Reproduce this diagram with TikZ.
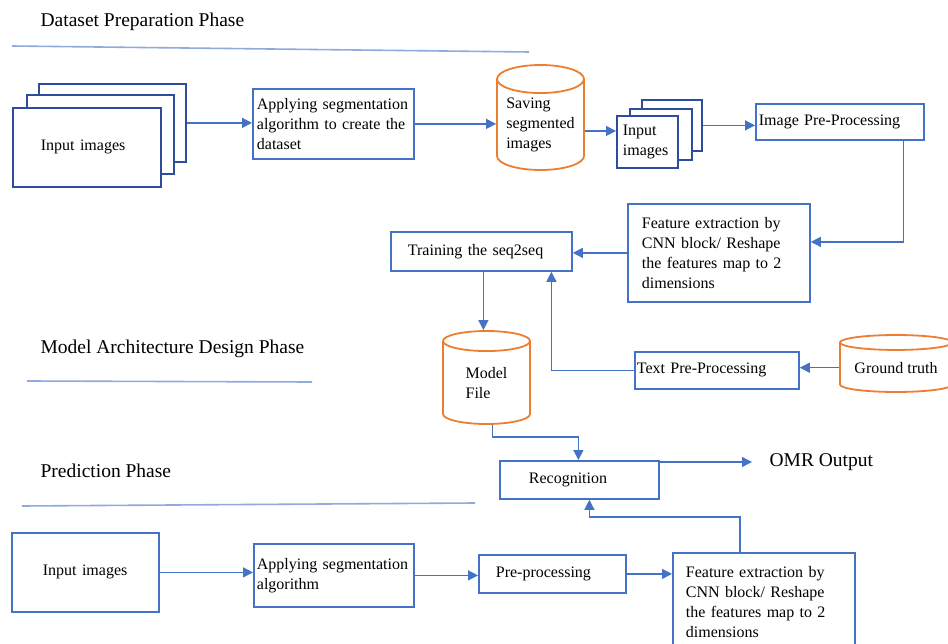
\documentclass[tikz,border=0pt]{standalone}
\usepackage{fontspec}
\setmainfont{Liberation Serif}
\usetikzlibrary{arrows.meta, shapes.geometric}
\definecolor{cblue}{HTML}{4472C4}
\definecolor{cnavy}{HTML}{2F4B9C}
\definecolor{clight}{HTML}{8FAADC}
\definecolor{corange}{HTML}{ED7D31}
\tikzset{
  every picture/.style={line width=1.2pt},
  box/.style={draw=#1, fill=white, line width=1.8pt, anchor=north west, align=left, inner ysep=0pt, font=\fontsize{16}{20}\selectfont},
  box/.default=cblue,
  drum/.style={cylinder, shape border rotate=90, aspect=0.3, draw=corange, fill=white, line width=1.8pt, anchor=shape center, align=left, inner sep=0pt, font=\fontsize{16}{20}\selectfont},
  arrow/.style={-{Triangle[length=10pt, width=10pt]}, draw=cblue, line width=1.3pt},
  title/.style={font=\fontsize{19.5}{23}\selectfont, anchor=west, inner sep=0pt},
  rule/.style={draw=clight, line width=1.6pt},
}

\begin{document}
\begin{tikzpicture}[x=1pt, y=-1pt]
  \useasboundingbox (0,0) rectangle (948,644);
  % dataset preparation
  \node[title] (t1) at (40,22) {Dataset Preparation Phase};
  \draw[rule] (12,46) -- (529,52);
  \node[box=cnavy, minimum width=147pt, minimum height=78pt] (in1c) at (38,83) {};
  \node[box=cnavy, minimum width=147pt, minimum height=79pt] (in1b) at (26,94) {};
  \node[box=cnavy, text width=92pt, inner xsep=28pt, minimum height=79pt] (in1a) at (12,107) {Input images};
  \node[box, text width=153pt, inner xsep=4pt, minimum height=70pt] (seg1) at (252,88) {Applying segmentation\\algorithm to create the\\dataset};
  \node[drum, aspect=0.41, minimum width=87pt, minimum height=105pt] (save) at (540.5,117.5) {Saving\\segmented\\images};
  \node[box=cnavy, minimum width=60pt, minimum height=51pt] (in2c) at (641,99) {};
  \node[box=cnavy, minimum width=62pt, minimum height=51pt] (in2b) at (629,108) {};
  \node[box=cnavy, text width=49pt, inner xsep=6pt, minimum height=52pt] (in2a) at (616,115) {Input\\images};
  \node[box, text width=162pt, inner xsep=3pt, minimum height=36pt] (imgpre) at (755,103) {Image Pre-Processing};
  \node[box, text width=154pt, inner xsep=14pt, minimum height=98pt] (feat1) at (627,203) {Feature extraction by\\CNN block/ Reshape\\the features map to 2\\dimensions};
  \node[box, text width=147pt, inner xsep=17pt, minimum height=39pt] (train) at (390,231) {Training the seq2seq};
  \draw[arrow] (in1c.east) -- (in1c.east -| seg1.west);
  \draw[arrow] (seg1.east) -- (seg1.east -| save.west);
  \draw[arrow] ([yshift=-6pt]save.east) -- ([yshift=-6pt]save.east -| in2a.west);
  \draw[arrow] (in2c.east) -- (in2c.east -| imgpre.west);
  \draw[arrow] ([xshift=-21pt]imgpre.south east) |- ([yshift=11pt]feat1.east);
  \draw[arrow] (feat1.west) -- (feat1.west -| train.east);
  % model architecture design
  \node[title] (t2) at (40,349) {Model Architecture Design Phase};
  \draw[rule] (27,381) -- (312,382);
  \node[drum, aspect=0.48, minimum width=87pt, minimum height=93pt] (model) at (486.5,377.5) {Model\\File};
  \node[box, text width=160pt, inner xsep=2pt, minimum height=37pt] (textpre) at (634,351) {Text Pre-Processing};
  \node[drum, aspect=0.18, minimum width=112pt, minimum height=57pt] (truth) at (896,363.5) {Ground truth};
  \node[box, text width=101pt, inner xsep=29pt, minimum height=38pt] (recog) at (499,460) {Recognition};
  \node[title] (omr) at (769,462) {OMR Output};
  \draw[arrow] ([xshift=2pt]train.south) -- ([xshift=2pt]train.south |- model.north);
  \draw[arrow] (textpre.west) -| ([xshift=70pt]train.south);
  \draw[arrow] (truth.west) -- (truth.west -| textpre.east);
  \draw[arrow] ([xshift=6pt]model.south) -- ++(0,12) -| ([xshift=-1pt]recog.north);
  \draw[arrow, shorten >=17pt] (omr.west -| recog.east) -- (omr.west);
  % prediction
  \node[title] (t3) at (40,471) {Prediction Phase};
  \draw[rule] (22,506) -- (475,503);
  \node[box, text width=85pt, inner xsep=31pt, minimum height=79pt] (in3) at (11,532) {Input images};
  \node[box, text width=154pt, inner xsep=3pt, minimum height=63pt] (seg3) at (253,543) {Applying segmentation\\algorithm};
  \node[box, text width=113pt, inner xsep=17pt, minimum height=38pt] (pre3) at (478,554) {Pre-processing};
  \node[box, text width=156pt, inner xsep=13pt, minimum height=98pt] (feat3) at (672,552) {Feature extraction by\\CNN block/ Reshape\\the features map to 2\\dimensions};
  \draw[arrow] (in3.east) -- (in3.east -| seg3.west);
  \draw[arrow] (seg3.east) -- (seg3.east -| pre3.west);
  \draw[arrow] (pre3.east) -- (pre3.east -| feat3.west);
  \draw[arrow] ([xshift=-24pt]feat3.north) -- ++(0,-35) -| ([xshift=10pt]recog.south);
\end{tikzpicture}
\end{document}
